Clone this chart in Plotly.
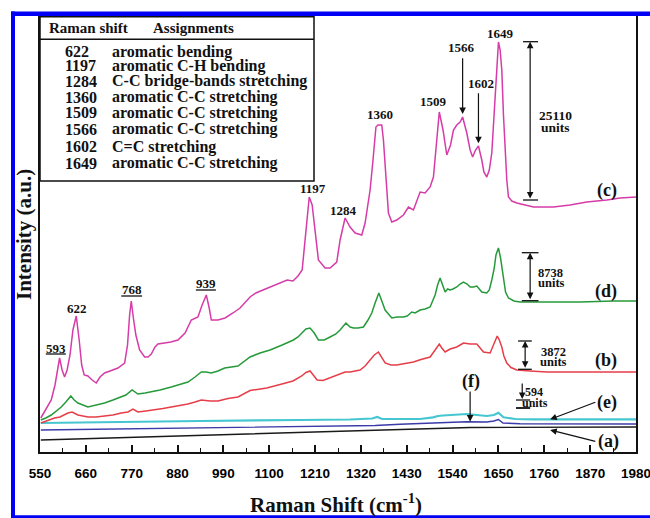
import plotly.graph_objects as go

# ---------------- data (intensity in arbitrary units) ----------------
wn_c = [552,564,577,586,597,603,609,615,622,629,
        637,644,650,656,665,675,685,694,705,718,
        737,753,760,765,769,774,780,789,801,809,
        817,826,833,849,864,881,898,913,929,939,
        949,956,961,977,994,1013,1030,1054,1068,1085,
        1102,1126,1143,1157,1169,1179,1186,1191,1196,1203,
        1210,1218,1234,1246,1262,1270,1282,1294,1306,1322,
        1330,1342,1349,1356,1361,1370,1374,1378,1386,1394,
        1406,1422,1434,1446,1462,1474,1486,1494,1501,1508,
        1517,1526,1535,1542,1550,1558,1564,1574,1582,1588,
        1595,1602,1610,1615,1622,1628,1634,1639,1644,1650,
        1654,1658,1662,1666,1670,1674,1682,1694,1714,1734,
        1762,1782,1822,1862,1910,1942,1980]
int_c = [34,42,52,67,94,82,75,82,97,122,
         136,112,87,77,76,72,69,75,79,81,
         84,89,107,137,151,134,117,102,95,95,
         98,105,108,109,110,112,119,132,135,147,
         157,144,132,132,134,139,144,155,159,162,
         165,169,172,171,176,182,212,237,255,247,
         222,192,184,184,190,212,234,225,219,217,
         229,262,292,325,327,327,312,289,239,230,
         232,237,245,242,260,259,265,275,312,340,
         322,297,307,322,327,330,335,319,302,295,
         302,306,292,280,275,282,299,332,365,410,
         402,382,337,299,272,255,251,249,247,245,
         245,245,247,250,252,254,255]

wn_d = [552,564,577,588,601,612,624,632,641,665,
        684,705,725,745,756,771,785,802,817,838,
        865,886,905,922,937,948,961,977,993,1025,
        1054,1078,1102,1131,1158,1169,1178,1188,1198,1208,
        1218,1232,1246,1260,1270,1284,1294,1302,1313,1326,
        1337,1346,1354,1363,1371,1378,1394,1407,1422,1431,
        1442,1450,1462,1474,1486,1498,1504,1510,1516,1522,
        1528,1534,1541,1550,1558,1566,1575,1582,1590,1598,
        1604,1610,1622,1628,1634,1640,1644,1650,1655,1662,
        1667,1674,1687,1702,1766,1846,1926,1980]
int_d = [32,34,37,41,45,50,56,52,49,45,
         47,49,52,55,57,62,58,59,60,62,
         65,68,70,75,80,80,79,81,84,86,
         95,99,102,107,112,115,119,123,124,119,
         112,112,115,118,122,129,125,124,124,125,
         132,139,149,159,150,142,134,135,135,136,
         140,139,142,143,145,157,167,174,167,160,
         163,162,163,165,168,170,168,165,165,166,
         163,160,159,162,172,184,197,204,194,172,
         160,154,151,150,150,150,151,151]

wn_b = [552,569,585,598,609,617,627,634,641,665,
        684,705,725,745,761,773,785,804,825,845,
        865,886,905,922,937,958,977,1001,1025,1054,
        1094,1126,1157,1178,1188,1198,1206,1215,1229,1246,
        1265,1282,1294,1306,1318,1330,1342,1352,1362,1370,
        1378,1392,1406,1426,1446,1464,1486,1498,1508,1514,
        1522,1534,1550,1566,1582,1598,1606,1614,1630,1638,
        1643,1647,1652,1658,1663,1670,1680,1694,1726,1766,
        1886,1980]
int_b = [29,31.5,34,35,37,39,40,38.5,37,35,
         35,36,37,39,40,43,40,41,42,43.5,
         45,46.5,48,50,52,51,51,53.5,55,61.5,
         64,67.5,71,76,79.5,81,77,72,71.5,74,
         77,80,80,81,82,86,92,97,100,95,
         89,87,87,88.5,90,92.5,95,102,108,104,
         100,103,105,109,108,108,104,100,99,107,
         113,116,112,105,96,89,84.5,82,81,80,
         80,80]

wn_e = [552,694,934,1174,1294,1347,1359,1371,1462,1493,1505,1517,1574,1622,1639,1650,1662,1690,1733,1980]
int_e = [29,30,31,32,32.5,33.5,35,33,33,34.7,36,36.5,38,36,37,39.3,34.7,33,32.7,32.7]

wn_f = [552,814,1174,1354,1414,1510,1574,1622,1639,1650,1661,1702,1980]
int_f = [22,23.5,25.5,26.5,27.7,29,30.3,30,31,32.5,29,28.3,28]

wn_a = [552,1582,1980]
int_a = [12,24.5,25]

x_ticks = [550,660,770,880,990,1100,1210,1320,1430,1540,1650,1760,1870,1980]
x_minor = [605,715,825,935,1045,1155,1265,1375,1485,1595,1705,1815,1925]

table_shift = ["622","1197","1284","1360","1509","1566","1602","1649"]
table_assign = ["aromatic bending","aromatic C-H bending","C-C bridge-bands stretching",
                "aromatic C-C stretching","aromatic C-C stretching","aromatic C-C stretching",
                "C=C stretching","aromatic C-C stretching"]

peak_text = ["593","622","768","939","1197","1284","1360","1509","1566","1602","1649"]

# ---------------- layout helpers ----------------
W, H = 650, 518
L, R, T, B = 40, 14, 16, 66
PW, PH = W - L - R, H - T - B
def xp(px): return (px - L) / PW
def yp(py): return (H - B - py) / PH

fig = go.Figure()
series = [(wn_a, int_a, "#1a1a1a", 1.4), (wn_f, int_f, "#3a3aa8", 1.4),
          (wn_e, int_e, "#45c6d0", 2.2), (wn_b, int_b, "#e63e48", 1.5),
          (wn_d, int_d, "#269a3a", 1.5), (wn_c, int_c, "#d63ca8", 1.5)]
for xs, ys, col, w in series:
    fig.add_trace(go.Scatter(x=xs, y=ys, mode="lines", line=dict(color=col, width=w),
                             hoverinfo="skip", showlegend=False))

SERIF = "Liberation Serif"
ann = []
def txt(x, y, s, size, xref="x", yref="y", xanchor="center", angle=0):
    ann.append(dict(x=x, y=y, xref=xref, yref=yref, text="<b>%s</b>" % s, showarrow=False,
                    xanchor=xanchor, yanchor="middle", textangle=angle, borderpad=0,
                    font=dict(family=SERIF, size=size, color="#111")))
def arrow(x, y, ax, ay, both=False, w=1.2):
    ann.append(dict(x=x, y=y, ax=ax, ay=ay, xref="x", yref="y", axref="x", ayref="y",
                    text="", showarrow=True, arrowhead=2, arrowsize=1.1, arrowwidth=w,
                    arrowcolor="#111", arrowside="end+start" if both else "end", standoff=0,
                    startstandoff=0))

# peak labels
pl_x = [588,639,770,948,1204,1279,1366,1495,1562,1607,1654]
pl_y = [104,143.7,162.7,168.7,263.7,242,337.7,350.3,404.7,368.7,418.7]
for s, x, y in zip(peak_text, pl_x, pl_y):
    txt(x, y, s, 13)

shapes = []
def seg(x0, y0, x1, y1, w=1.3, color="#111", xref="x", yref="y"):
    shapes.append(dict(type="line", x0=x0, y0=y0, x1=x1, y1=y1, xref=xref, yref=yref,
                       line=dict(color=color, width=w)))
# underlines
seg(564, 98, 612, 98); seg(745, 156, 795, 156); seg(924, 162, 972, 162)

# arrows for 1566 / 1602
arrow(1564, 338, 1564, 395.3)
arrow(1602, 308.7, 1602, 360.3)

# dimension markers
arrow(1726, 410.3, 1726, 252, both=True); seg(1709, 410.3, 1745, 410.3); seg(1709, 252, 1745, 252)
txt(1787, 336.3, "25110", 13.5); txt(1786, 324.7, "units", 13.5)
arrow(1726, 199.3, 1726, 151.3, both=True); seg(1706, 199.3, 1746, 199.3); seg(1706, 151.3, 1746, 151.3)
txt(1776, 179.3, "8738", 12.5); txt(1778, 169.3, "units", 12.5)
arrow(1714, 111, 1714, 82.7, both=True); seg(1697, 111, 1730, 111); seg(1697, 82.7, 1730, 82.7)
txt(1781, 100.3, "3872", 12.5); txt(1781, 90.3, "units", 12.5)
arrow(1707, 53, 1707, 70); seg(1692, 52, 1726, 52); seg(1692, 44, 1726, 44, w=1.8)
txt(1735, 60.3, "594", 12); txt(1737, 49.3, "units", 12)

# curve labels and pointer arrows
txt(1910, 262, "(c)", 18); txt(1907, 160.3, "(d)", 18); txt(1907, 92, "(b)", 18)
txt(1910, 49.3, "(e)", 18); txt(1913, 10.3, "(a)", 18); txt(1584, 70.3, "(f)", 18)
arrow(1582, 30.3, 1582, 62)
arrow(1774, 32.7, 1886, 50.3)
arrow(1774, 22, 1886, 10.3)

# table
shapes.append(dict(type="rect", xref="paper", yref="paper", x0=xp(40), x1=xp(314),
                   y0=yp(181), y1=yp(16.7), line=dict(color="#111", width=1.5),
                   fillcolor="white", layer="below"))
seg(xp(40), yp(39.3), xp(314), yp(39.3), w=1.5, xref="paper", yref="paper")
txt(xp(48.3), yp(28.3), "Raman shift", 15, xref="paper", yref="paper", xanchor="left")
txt(xp(151.7), yp(28.3), "Assignments", 15, xref="paper", yref="paper", xanchor="left")
row_py = [51.7, 65.5, 81, 97.3, 112.8, 129.3, 146.7, 163.3]
for s, a, py in zip(table_shift, table_assign, row_py):
    txt(xp(64), yp(py), s, 16, xref="paper", yref="paper", xanchor="left")
    txt(xp(111), yp(py), a, 16, xref="paper", yref="paper", xanchor="left")

# axis titles
txt(xp(336), yp(503), "Raman Shift (cm<sup>-1</sup>)", 21, xref="paper", yref="paper")
txt(xp(24), yp(235), "Intensity (a.u.)", 21, xref="paper", yref="paper", angle=-90)

# blue frame
BLUE = "#0000f5"
seg(xp(11), yp(13.7), xp(650), yp(13.7), w=4.5, color=BLUE, xref="paper", yref="paper")
seg(xp(13), yp(11.5), xp(13), yp(518), w=4, color=BLUE, xref="paper", yref="paper")
seg(xp(11), yp(516.8), xp(650), yp(516.8), w=3, color=BLUE, xref="paper", yref="paper")

fig.update_layout(
    width=W, height=H, margin=dict(l=L, r=R, t=T, b=B, autoexpand=False),
    paper_bgcolor="white", plot_bgcolor="white",
    shapes=shapes, annotations=ann,
    xaxis=dict(range=[550, 1980], tickvals=x_ticks, ticktext=[str(v) for v in x_ticks],
               ticks="inside", ticklen=7, tickwidth=1.5, tickcolor="#111",
               minor=dict(tickvals=x_minor, ticks="inside", ticklen=4, tickwidth=1.3, tickcolor="#111"),
               showline=True, linecolor="#111", linewidth=1.6, mirror=True, automargin=False,
               showgrid=False, zeroline=False, ticklabelstandoff=8, ticklabeloverflow="allow",
               tickfont=dict(family="Liberation Sans", size=13.5, color="#000", weight="bold")),
    yaxis=dict(range=[0, PH], showticklabels=False, ticks="", showline=True, linecolor="#111",
               linewidth=1.6, mirror=True, showgrid=False, zeroline=False, automargin=False),
)
fig.write_html("out.html", config={"displayModeBar": False},
               post_script="document.body.style.margin='0px';document.body.style.overflow='hidden';")
